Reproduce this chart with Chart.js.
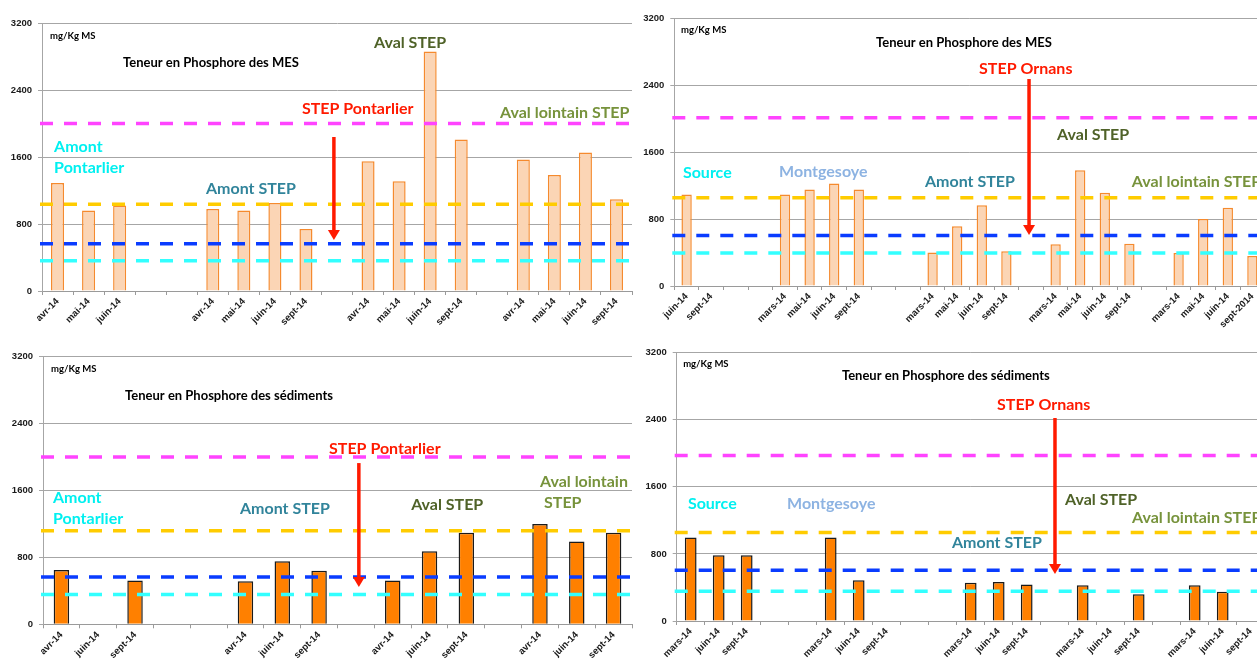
<!DOCTYPE html>
<html>
<head>
<meta charset="utf-8">
<script src="https://cdn.jsdelivr.net/npm/chart.js@4.4.0/dist/chart.umd.min.js"></script>
<style>
  html, body { margin: 0; padding: 0; background: #fff; overflow: hidden; width: 1257px; height: 662px; position: relative; }
  canvas { position: absolute; }
</style>
</head>
<body>
<canvas id="mesPontarlier" width="640" height="330" style="left:0;top:0"></canvas>
<canvas id="sedPontarlier" width="640" height="332" style="left:0;top:330px"></canvas>
<canvas id="mesOrnans" width="640" height="330" style="left:630px;top:0"></canvas>
<canvas id="sedOrnans" width="640" height="332" style="left:630px;top:330px"></canvas>
<script>
// Teneur en phosphore des MES - secteur Pontarlier
const moisMesPont = ['avr-14','mai-14','juin-14','','','avr-14','mai-14','juin-14','sept-14','','avr-14','mai-14','juin-14','sept-14','','avr-14','mai-14','juin-14','sept-14'];
const valMesPont = [1290, 960, 1020, null, null, 980, 960, 1050, 740, null, 1550, 1310, 2860, 1810, null, 1570, 1385, 1655, 1095];
const seuilsMesPont = [2000, 1035, 565, 360];

// Teneur en phosphore des sédiments - secteur Pontarlier
const moisSedPont = ['avr-14','juin-14','sept-14','','','avr-14','juin-14','sept-14','','avr-14','juin-14','sept-14','','avr-14','juin-14','sept-14'];
const valSedPont = [650, null, 525, null, null, 515, 755, 640, null, 525, 875, 1095, null, 1200, 990, 1095];
const seuilsSedPont = [2000, 1120, 565, 355];

// Teneur en phosphore des MES - secteur Ornans
const moisMesOrn = ['juin-14','sept-14','','','mars-14','mai-14','juin-14','sept-14','','','mars-14','mai-14','juin-14','sept-14','','mars-14','mai-14','juin-14','sept-14','','mars-14','mai-14','juin-14','sept-2014'];
const valMesOrn = [1095, null, null, null, 1095, 1155, 1225, 1155, null, null, 400, 715, 965, 415, null, 500, 1385, 1115, 505, null, 395, 800, 935, 360];
const seuilsMesOrn = [2010, 1055, 605, 395];

// Teneur en phosphore des sédiments - secteur Ornans
const moisSedOrn = ['mars-14','juin-14','sept-14','','','mars-14','juin-14','sept-14','','','mars-14','juin-14','sept-14','','mars-14','juin-14','sept-14','','mars-14','juin-14','sept-14'];
const valSedOrn = [995, 785, 785, null, null, 995, 485, null, null, null, 455, 465, 435, null, 425, null, 320, null, 425, 350, null];
const seuilsSedOrn = [1975, 1055, 605, 355];

const graduations = [0, 800, 1600, 2400, 3200];

const couleursSeuils = ['#FF44FF', '#FFCC00', '#0A3CFF', '#33FFFF'];
const cyan = '#00F0F0', rouge = '#FF1A00', amontStep = '#31849B', avalStep = '#4F6228', lointain = '#77933C', montg = '#8DB3E2';
const gros = 'bold 16px Lato', titre = 'bold 13px Lato', unite = 'bold 9.5px Lato';

// textes places en coordonnees de donnees (indice de categorie, valeur)
function textesPontarlier(sed) {
  return sed ? [
    { t: 'mg/Kg MS', x: -0.28, y: 3052, c: '#000', f: unite },
    { t: 'Teneur en Phosphore des sédiments', x: 1.73, y: 2729, c: '#000', f: titre },
    { t: 'Amont', x: -0.23, y: 1510, c: cyan },
    { t: 'Pontarlier', x: -0.23, y: 1259, c: cyan },
    { t: 'Amont STEP', x: 4.85, y: 1378, c: amontStep },
    { t: 'STEP Pontarlier', x: 7.27, y: 2096, c: rouge },
    { t: 'Aval STEP', x: 9.5, y: 1426, c: avalStep },
    { t: 'Aval lointain', x: 13.0, y: 1701, c: lointain },
    { t: 'STEP', x: 13.11, y: 1450, c: lointain }
  ] : [
    { t: 'mg/Kg MS', x: -0.24, y: 3045, c: '#000', f: unite },
    { t: 'Teneur en Phosphore des MES', x: 2.11, y: 2722, c: '#000', f: titre },
    { t: 'Amont', x: -0.11, y: 1719, c: cyan },
    { t: 'Pontarlier', x: -0.11, y: 1469, c: cyan },
    { t: 'Amont STEP', x: 4.78, y: 1218, c: amontStep },
    { t: 'STEP Pontarlier', x: 7.87, y: 2173, c: rouge },
    { t: 'Aval STEP', x: 10.19, y: 2961, c: avalStep },
    { t: 'Aval lointain STEP', x: 14.25, y: 2125, c: lointain }
  ];
}

const textesMesOrn = [
  { t: 'mg/Kg MS', x: -0.23, y: 3060, c: '#000', f: unite },
  { t: 'Teneur en Phosphore des MES', x: 7.7, y: 2905, c: '#000', f: titre },
  { t: 'Source', x: -0.15, y: 1351, c: cyan },
  { t: 'Montgesoye', x: 3.76, y: 1363, c: montg },
  { t: 'Amont STEP', x: 9.69, y: 1243, c: amontStep },
  { t: 'STEP Ornans', x: 11.89, y: 2594, c: rouge },
  { t: 'Aval STEP', x: 15.06, y: 1805, c: avalStep },
  { t: 'Aval lointain STEP', x: 18.1, y: 1243, c: lointain }
];

const textesSedOrn = [
  { t: 'mg/Kg MS', x: -0.27, y: 3065, c: '#000', f: unite },
  { t: 'Teneur en Phosphore des sédiments', x: 5.4, y: 2922, c: '#000', f: titre },
  { t: 'Source', x: -0.1, y: 1396, c: cyan },
  { t: 'Montgesoye', x: 3.44, y: 1396, c: montg },
  { t: 'Amont STEP', x: 9.33, y: 930, c: amontStep },
  { t: 'STEP Ornans', x: 10.94, y: 2576, c: rouge },
  { t: 'Aval STEP', x: 13.37, y: 1443, c: avalStep },
  { t: 'Aval lointain STEP', x: 15.76, y: 1229, c: lointain }
];

// seuils en tirets, fleche rouge et textes, dessines par-dessus les barres
function habillage(seuils, textes, fleche) {
  return {
    id: 'habillage',
    afterDatasetsDraw(chart) {
      const { ctx, chartArea: a, scales: { x, y } } = chart;
      ctx.save();
      ctx.lineWidth = 3.5;
      ctx.setLineDash([13, 11]);
      seuils.forEach((v, i) => {
        const py = y.getPixelForValue(v);
        ctx.strokeStyle = couleursSeuils[i];
        ctx.beginPath();
        ctx.moveTo(a.left - 2, py);
        ctx.lineTo(a.right, py);
        ctx.stroke();
      });
      ctx.setLineDash([]);

      const fx = x.getPixelForValue(fleche.x);
      const y1 = y.getPixelForValue(fleche.de), y2 = y.getPixelForValue(fleche.a);
      ctx.strokeStyle = rouge; ctx.fillStyle = rouge; ctx.lineWidth = 3.5;
      ctx.beginPath(); ctx.moveTo(fx, y1); ctx.lineTo(fx, y2 - 9); ctx.stroke();
      ctx.beginPath(); ctx.moveTo(fx - 6, y2 - 10); ctx.lineTo(fx + 6, y2 - 10); ctx.lineTo(fx, y2); ctx.closePath(); ctx.fill();

      ctx.textBaseline = 'middle';
      ctx.textAlign = 'left';
      textes.forEach(t => {
        ctx.font = t.f || gros;
        ctx.fillStyle = t.c;
        ctx.fillText(t.t, x.getPixelForValue(t.x), y.getPixelForValue(t.y));
      });
      ctx.restore();
    }
  };
}

function panneau(id, mois, valeurs, seuils, textes, fleche, sediments, cadre) {
  new Chart(document.getElementById(id), {
    type: 'bar',
    data: {
      labels: mois,
      datasets: [{
        data: valeurs,
        backgroundColor: sediments ? '#FF8000' : '#FBD5B5',
        borderColor: sediments ? '#1A1A1A' : '#F58A2E',
        borderWidth: 1.5,
        barPercentage: 0.42,
        categoryPercentage: 1
      }]
    },
    options: {
      responsive: false,
      animation: false,
      devicePixelRatio: 1,
      layout: { padding: { top: cadre.haut, right: cadre.droite, left: 0, bottom: 0 } },
      plugins: { legend: { display: false }, tooltip: { enabled: false } },
      scales: {
        x: {
          offset: true,
          grid: { drawOnChartArea: false, offset: true, color: '#9A9A9A', tickLength: 4 },
          border: { color: '#9A9A9A' },
          ticks: {
            autoSkip: false, maxRotation: 45, minRotation: 45, padding: 1, color: '#1A1A1A',
            font: { family: 'Liberation Sans', weight: 'bold', size: 9.5 }
          },
          afterFit: s => { s.height = cadre.bas; }
        },
        y: {
          min: 0, max: 3200,
          afterBuildTicks: s => { s.ticks = graduations.map(v => ({ value: v })); },
          grid: { color: '#A6A6A6', tickLength: 4 },
          border: { color: '#A6A6A6' },
          ticks: {
            padding: 6, color: '#1A1A1A', callback: v => String(v),
            font: { family: 'Liberation Sans', weight: 'bold', size: 9.5 }
          },
          afterFit: s => { s.width = cadre.gauche; }
        }
      }
    },
    plugins: [habillage(seuils, textes, fleche)]
  });
}

panneau('mesPontarlier', moisMesPont, valMesPont, seuilsMesPont, textesPontarlier(false),
  { x: 8.9, de: 1839, a: 609 }, false, { gauche: 42, droite: 8, haut: 23, bas: 39 });
panneau('sedPontarlier', moisSedPont, valSedPont, seuilsSedPont, textesPontarlier(true),
  { x: 8.08, de: 1928, a: 446 }, true, { gauche: 43, droite: 8, haut: 26.7, bas: 37.7 });
panneau('mesOrnans', moisMesOrn, valMesOrn, seuilsMesOrn, textesMesOrn,
  { x: 13.92, de: 2474, a: 610 }, false, { gauche: 44.3, droite: 5.3, haut: 18.3, bas: 44 });
panneau('sedOrnans', moisSedOrn, valSedOrn, seuilsSedOrn, textesSedOrn,
  { x: 13.01, de: 2421, a: 561 }, true, { gauche: 46.7, droite: 5.3, haut: 22.7, bas: 41 });
</script>
</body>
</html>
